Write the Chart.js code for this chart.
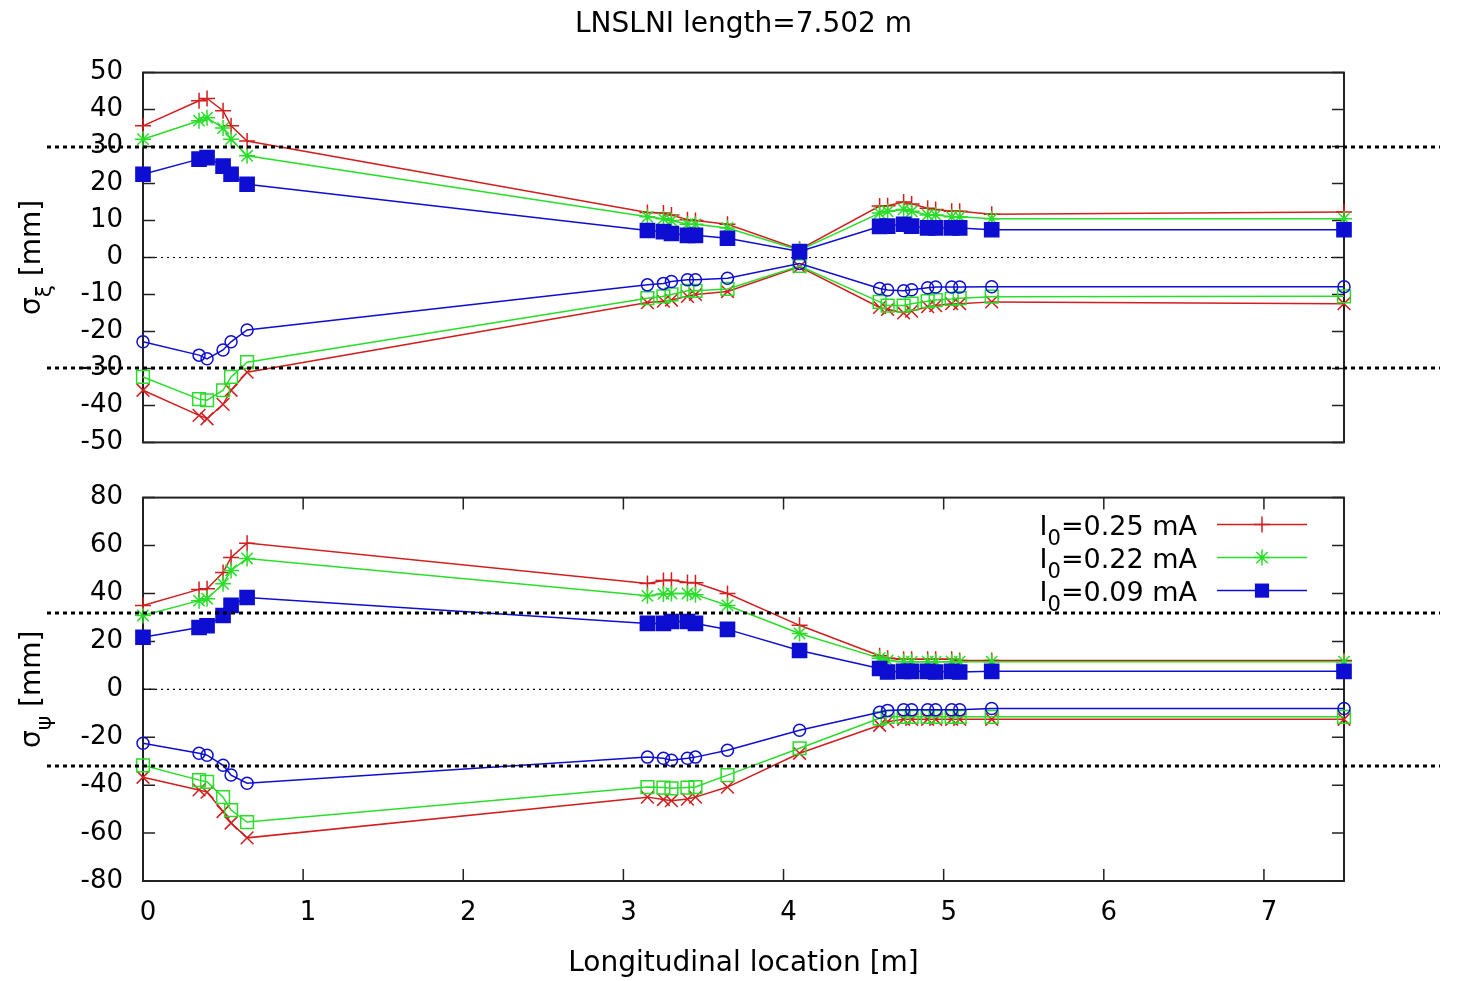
<!DOCTYPE html>
<html>
<head>
<meta charset="utf-8">
<script src="https://cdn.jsdelivr.net/npm/chart.js@4.4.1/dist/chart.umd.min.js"></script>
<style>
  html, body { margin: 0; padding: 0; background: #fff; }
  #wrap { position: relative; width: 1460px; height: 981px; }
  canvas { position: absolute; left: 0; }
  #xiChart { top: 0; }
  #psiChart { top: 470px; }
</style>
</head>
<body>
<div id="wrap">
  <canvas id="xiChart" width="1460" height="470"></canvas>
  <canvas id="psiChart" width="1460" height="511"></canvas>
</div>
<script>
// longitudinal positions of the sample points [m]
const positions = [0, 0.35, 0.4, 0.5, 0.55, 0.65, 3.15, 3.25, 3.3, 3.4, 3.45, 3.65, 4.1,
                   4.6, 4.65, 4.75, 4.8, 4.9, 4.95, 5.05, 5.1, 5.3, 7.5];

// sigma_xi envelope [mm], upper and lower, per beam current
const xiPos025 = [35.6, 42.4, 43, 39.7, 35.6, 31.5, 12.2, 12, 11.5, 10.2, 10, 9, 2.2, 13.9, 14, 15, 14.5, 13.3, 13, 12.5, 12.5, 11.7, 12.3];
const xiNeg025 = [-35.9, -42.7, -43.6, -39.7, -35.9, -31, -12.2, -11.8, -11.5, -10.5, -10, -9.2, -2.5, -13.5, -14, -15, -14.5, -13.3, -13, -12.5, -12.5, -12, -12.5];
const xiPos022 = [32, 37, 37.8, 35, 32, 27.5, 11, 10.5, 10, 9, 9, 8, 2, 12, 12.5, 13, 12.5, 11.5, 11.5, 11, 11, 10.5, 10.5];
const xiNeg022 = [-32.3, -38.3, -38.6, -35.9, -32.3, -28.3, -11, -10.5, -10, -9, -9, -8.5, -2.3, -12, -13, -13, -12.5, -11.8, -11.5, -11.2, -11, -10.6, -10.5];
const xiPos009 = [22.5, 26.6, 27, 24.7, 22.5, 19.8, 7.3, 7, 6.5, 6, 6, 5.2, 1.6, 8.4, 8.5, 9, 8.5, 8, 8, 8, 8, 7.5, 7.5];
const xiNeg009 = [-22.8, -26.4, -27.4, -25, -22.8, -19.6, -7.4, -7, -6.5, -6, -6, -5.6, -1.6, -8.4, -8.8, -9, -8.7, -8.2, -8, -8, -8, -7.9, -7.9];

// sigma_psi envelope [mm]
const psiPos025 = [35, 41.7, 42, 48.7, 55, 61, 44.2, 45.4, 45.5, 44.6, 44.5, 40, 26.7, 14, 13, 12.5, 12.5, 12.5, 12.5, 12.5, 12, 12, 12];
const psiNeg025 = [-36.7, -42, -42.9, -51, -55.8, -62, -45, -46, -46.5, -45.8, -45, -40.8, -26.7, -15, -13.5, -12.5, -12.5, -12.5, -12.5, -12.5, -12.5, -12.5, -12.5];
const psiPos022 = [30.8, 37, 37.8, 44, 49.6, 54.6, 39, 39.8, 40, 40, 39.5, 35, 23.3, 13, 12, 11.5, 11.5, 11.5, 11.5, 11.5, 11.5, 11.5, 11.5];
const psiNeg022 = [-31.7, -37.9, -38.6, -45, -50.4, -55.4, -40.8, -41, -41.3, -41, -40.8, -35.8, -24.6, -12.1, -11.5, -11.5, -11.5, -11.5, -11.5, -11.5, -11.5, -11.5, -11.5];
const psiPos009 = [21.7, 25.8, 26.5, 30.8, 35, 38.3, 27.5, 27.5, 28.3, 28.3, 27.5, 25, 16.2, 8.7, 7.2, 7.5, 7.5, 7.5, 7.2, 7.5, 7.2, 7.5, 7.5];
const psiNeg009 = [-22.5, -26.7, -27.5, -31.7, -35.8, -39.2, -28.3, -28.8, -29.6, -28.8, -28.3, -25.4, -17.1, -9.6, -8.8, -8.5, -8.5, -8.5, -8.5, -8.5, -8.5, -8, -8];

const currents = ['0.25', '0.22', '0.09'];

// ticks and aperture limits
const xTicks = [0, 1, 2, 3, 4, 5, 6, 7];
const xiTicks = [-50, -40, -30, -20, -10, 0, 10, 20, 30, 40, 50];
const psiTicks = [-80, -60, -40, -20, 0, 20, 40, 60, 80];
const xiLimits = [30, -30];
const psiLimits = [32, -32];

const FONT = '"DejaVu Sans", "Liberation Sans", sans-serif';
const red = 'rgb(210,30,30)';
const green = 'rgb(40,222,40)';
const blue = 'rgb(14,14,210)';
const none = 'rgba(0,0,0,0)';

function series(values, color, style, radius, fill, current) {
  return {
    data: values.map((v, i) => ({ x: positions[i], y: v })),
    borderColor: color,
    backgroundColor: fill ? color : none,
    borderWidth: 1.5,
    pointStyle: style,
    pointRadius: radius,
    pointBorderColor: color,
    pointBackgroundColor: fill ? color : none,
    pointBorderWidth: 1.5,
    tension: 0,
    clip: false,
    current: current // only set for the key entries
  };
}

// first in list is drawn on top, so blue goes first
function makeSets(p025, n025, p022, n022, p009, n009) {
  return [
    series(p009, blue, 'rect', 10, true, currents[2]),
    series(n009, blue, 'circle', 6, false),
    series(p022, green, 'star', 8, false, currents[1]),
    series(n022, green, 'rect', 9, false),
    series(p025, red, 'cross', 8, false, currents[0]),
    series(n025, red, 'crossRot', 9, false)
  ];
}

function drawMarker(ctx, style, r, x, y, color) {
  ctx.save();
  ctx.strokeStyle = color;
  ctx.fillStyle = color;
  ctx.lineWidth = 1.5;
  ctx.beginPath();
  if (style === 'rect') {
    const s = r * Math.SQRT1_2;
    ctx.fillRect(x - s, y - s, 2 * s, 2 * s);
  } else {
    ctx.moveTo(x - r, y); ctx.lineTo(x + r, y);
    ctx.moveTo(x, y - r); ctx.lineTo(x, y + r);
    if (style === 'star') {
      const d = r * Math.SQRT1_2;
      ctx.moveTo(x - d, y - d); ctx.lineTo(x + d, y + d);
      ctx.moveTo(x - d, y + d); ctx.lineTo(x + d, y - d);
    }
    ctx.stroke();
  }
  ctx.restore();
}

// text with a subscript part, returns the width
function subText(ctx, parts, x, y, size, measureOnly) {
  let w = 0;
  parts.forEach(p => {
    const fs = p.sub ? size * 0.78 : size;
    ctx.font = fs + 'px ' + FONT;
    if (!measureOnly) ctx.fillText(p.t, x + w, y + (p.sub ? size * 0.4 : 0));
    w += ctx.measureText(p.t).width;
  });
  return w;
}

// gnuplot style frame, inward ticks, dotted zero line, limit lines, labels, key
const gnuFrame = {
  id: 'gnuFrame',
  beforeDatasetsDraw(chart, args, opts) {
    const { ctx, chartArea: a, scales: { x, y } } = chart;
    ctx.save();
    ctx.strokeStyle = '#222';
    ctx.lineWidth = 2;
    ctx.strokeRect(a.left, a.top, a.right - a.left, a.bottom - a.top);
    ctx.lineWidth = 1.5;
    ctx.beginPath();
    y.ticks.forEach(t => {
      const py = y.getPixelForValue(t.value);
      ctx.moveTo(a.left, py); ctx.lineTo(a.left + 12, py);
      ctx.moveTo(a.right, py); ctx.lineTo(a.right - 12, py);
    });
    if (opts.xTicks) {
      x.ticks.forEach(t => {
        const px = x.getPixelForValue(t.value);
        ctx.moveTo(px, a.bottom); ctx.lineTo(px, a.bottom - 12);
        ctx.moveTo(px, a.top); ctx.lineTo(px, a.top + 12);
      });
    }
    ctx.stroke();
    // dotted zero line
    const y0 = y.getPixelForValue(0);
    ctx.strokeStyle = '#000';
    ctx.lineWidth = 1.2;
    ctx.setLineDash([2, 4]);
    ctx.beginPath();
    ctx.moveTo(a.left, y0); ctx.lineTo(a.right, y0);
    ctx.stroke();
    ctx.restore();
  },
  afterDraw(chart, args, opts) {
    const { ctx, chartArea: a, scales: { y } } = chart;
    ctx.save();
    // aperture limit lines
    ctx.strokeStyle = '#000';
    ctx.lineWidth = 3;
    ctx.setLineDash([4, 4]);
    opts.limits.forEach(v => {
      const py = Math.round(y.getPixelForValue(v));
      ctx.beginPath();
      ctx.moveTo(a.left - 96, py); ctx.lineTo(a.right + 96, py);
      ctx.stroke();
    });
    ctx.setLineDash([]);
    // y axis label
    ctx.fillStyle = '#000';
    ctx.textBaseline = 'alphabetic';
    ctx.textAlign = 'left';
    const lbl = [{ t: 'σ' }, { t: opts.yLabel, sub: true }, { t: ' [mm]' }];
    ctx.save();
    ctx.translate(40, (a.top + a.bottom) / 2);
    ctx.rotate(-Math.PI / 2);
    const lw = subText(ctx, lbl, 0, 0, 28, true);
    subText(ctx, lbl, -lw / 2, 0, 28, false);
    ctx.restore();
    // key
    if (opts.legend) {
      const items = chart.data.datasets.filter(d => d.current).reverse();
      items.forEach((d, i) => {
        const py = a.top + 27 + i * 33;
        const parts = [{ t: 'I' }, { t: '0', sub: true }, { t: '=' + d.current + ' mA' }];
        const w = subText(ctx, parts, 0, 0, 27, true);
        ctx.fillStyle = '#000';
        subText(ctx, parts, a.right - 147 - w, py + 10, 27, false);
        ctx.strokeStyle = d.borderColor;
        ctx.lineWidth = 1.5;
        ctx.beginPath();
        ctx.moveTo(a.right - 127, py); ctx.lineTo(a.right - 37, py);
        ctx.stroke();
        drawMarker(ctx, d.pointStyle, d.pointRadius, a.right - 82, py, d.borderColor);
      });
    }
    ctx.restore();
  }
};

const tickFont = { family: FONT, size: 26 };

new Chart(document.getElementById('xiChart'), {
  type: 'line',
  data: { datasets: makeSets(xiPos025, xiNeg025, xiPos022, xiNeg022, xiPos009, xiNeg009) },
  options: {
    responsive: false,
    animation: false,
    devicePixelRatio: 1,
    layout: { padding: { left: 0, right: 116, top: 0, bottom: 24 } },
    plugins: {
      legend: { display: false },
      tooltip: { enabled: false },
      title: {
        display: true,
        text: 'LNSLNI length=7.502 m',
        fullSize: false,
        color: '#000',
        font: { family: FONT, size: 28, weight: 'normal' },
        padding: { top: 8, bottom: 31 }
      },
      gnuFrame: { limits: xiLimits, xTicks: false, yLabel: 'ξ', legend: false }
    },
    scales: {
      x: { type: 'linear', display: false, min: 0, max: 7.5 },
      y: {
        min: -50, max: 50,
        afterBuildTicks: s => { s.ticks = xiTicks.map(v => ({ value: v })); },
        afterFit: s => { s.width = 143; },
        grid: { display: false },
        border: { display: false },
        ticks: { color: '#000', font: tickFont, padding: 12 }
      }
    }
  },
  plugins: [gnuFrame]
});

new Chart(document.getElementById('psiChart'), {
  type: 'line',
  data: { datasets: makeSets(psiPos025, psiNeg025, psiPos022, psiNeg022, psiPos009, psiNeg009) },
  options: {
    responsive: false,
    animation: false,
    devicePixelRatio: 1,
    layout: { padding: { left: 0, right: 116, top: 22, bottom: 0 } },
    plugins: {
      legend: { display: false },
      tooltip: { enabled: false },
      gnuFrame: { limits: psiLimits, xTicks: true, yLabel: 'ψ', legend: true }
    },
    scales: {
      x: {
        type: 'linear', min: 0, max: 7.5,
        afterBuildTicks: s => { s.ticks = xTicks.map(v => ({ value: v })); },
        afterFit: s => { s.height = 100; },
        grid: { display: false },
        border: { display: false },
        ticks: { color: '#000', font: tickFont, padding: 9, labelOffset: 5, maxRotation: 0, autoSkip: false },
        title: {
          display: true,
          text: 'Longitudinal location [m]',
          color: '#000',
          font: { family: FONT, size: 28 },
          padding: { top: 0, bottom: 0 }
        }
      },
      y: {
        min: -80, max: 80,
        afterBuildTicks: s => { s.ticks = psiTicks.map(v => ({ value: v })); },
        afterFit: s => { s.width = 143; },
        grid: { display: false },
        border: { display: false },
        ticks: { color: '#000', font: tickFont, padding: 12 }
      }
    }
  },
  plugins: [gnuFrame]
});
</script>
</body>
</html>
